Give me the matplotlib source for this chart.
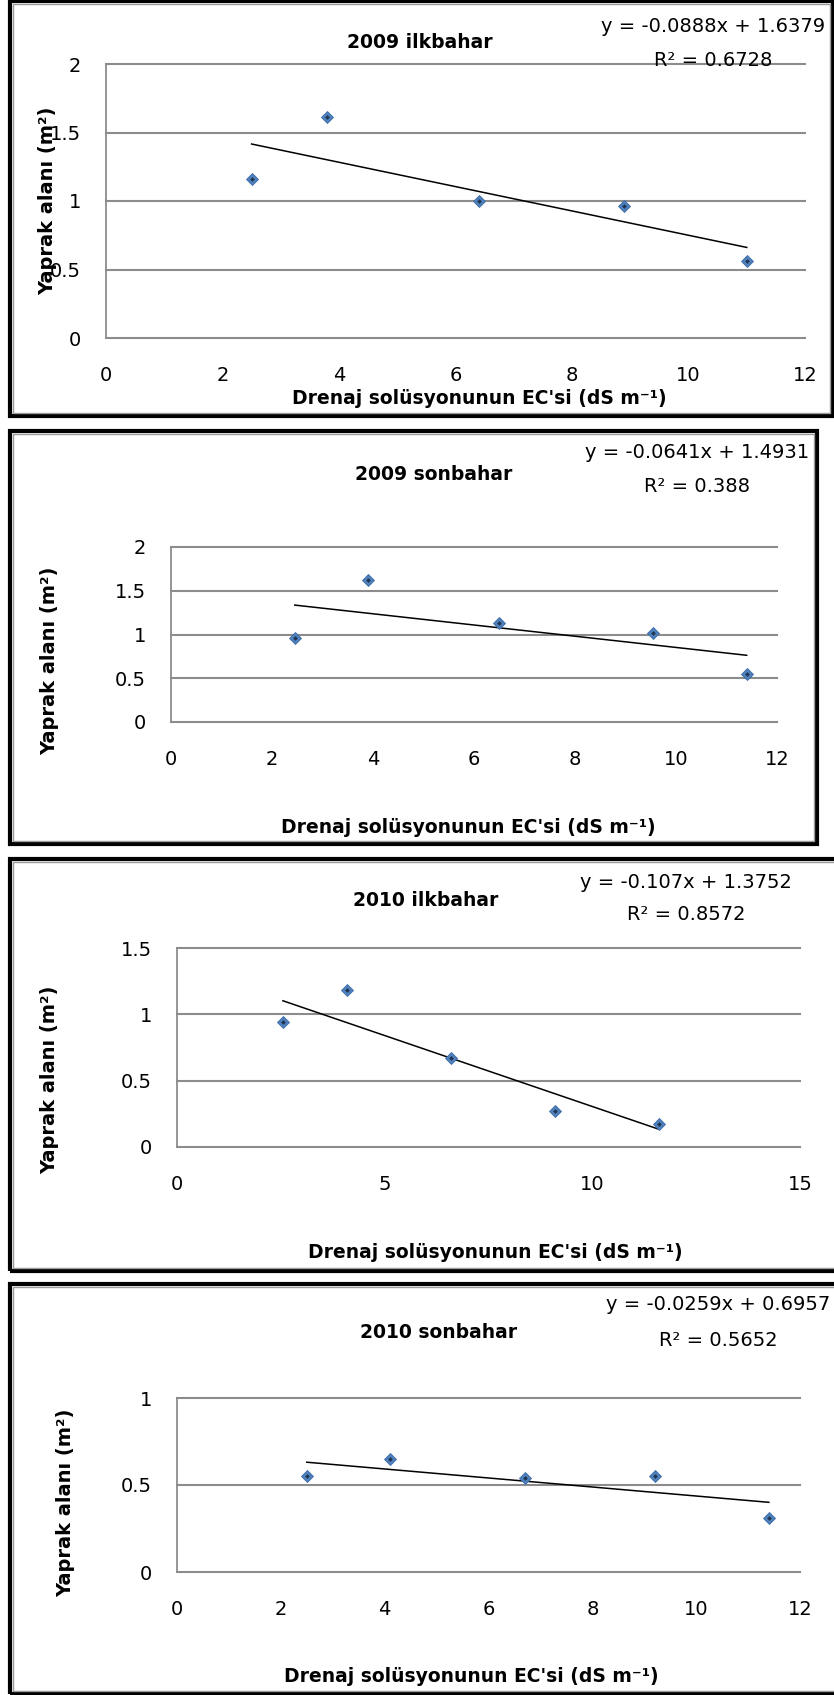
import matplotlib
matplotlib.use("Agg")
import matplotlib.pyplot as plt
from matplotlib.patches import Rectangle
import numpy as np

W, H = 834, 1695
DPI = 100

# ---------------- data ----------------
titles = ["2009 ilkbahar", "2009 sonbahar", "2010 ilkbahar", "2010 sonbahar"]
x_2009_ilk = [2.5, 3.8, 6.4, 8.9, 11.0]
y_2009_ilk = [1.16, 1.61, 1.00, 0.96, 0.56]
x_2009_son = [2.45, 3.9, 6.5, 9.55, 11.4]
y_2009_son = [0.96, 1.62, 1.13, 1.02, 0.55]
x_2010_ilk = [2.55, 4.1, 6.6, 9.1, 11.6]
y_2010_ilk = [0.94, 1.18, 0.67, 0.27, 0.17]
x_2010_son = [2.5, 4.1, 6.7, 9.2, 11.4]
y_2010_son = [0.55, 0.65, 0.54, 0.55, 0.31]
slopes = [-0.0888, -0.0641, -0.107, -0.0259]
intercepts = [1.6379, 1.4931, 1.3752, 0.6957]
eq_texts = ["y = -0.0888x + 1.6379", "y = -0.0641x + 1.4931",
            "y = -0.107x + 1.3752", "y = -0.0259x + 0.6957"]
r2_texts = ["R² = 0.6728", "R² = 0.388", "R² = 0.8572", "R² = 0.5652"]
xticks_list = [[0, 2, 4, 6, 8, 10, 12], [0, 2, 4, 6, 8, 10, 12],
               [0, 5, 10, 15], [0, 2, 4, 6, 8, 10, 12]]
yticks_list = [[0, 0.5, 1, 1.5, 2], [0, 0.5, 1, 1.5, 2],
               [0, 0.5, 1, 1.5], [0, 0.5, 1]]
ytick_labels_list = [["0", "0.5", "1", "1.5", "2"], ["0", "0.5", "1", "1.5", "2"],
                     ["0", "0.5", "1", "1.5"], ["0", "0.5", "1"]]
xlabel = "Drenaj solüsyonunun EC'si (dS m⁻¹)"
ylabel = "Yaprak alanı (m²)"
xs = [x_2009_ilk, x_2009_son, x_2010_ilk, x_2010_son]
ys = [y_2009_ilk, y_2009_son, y_2010_ilk, y_2010_son]

# ---------------- layout (pixels) ----------------
# panel frame: left, top, right, bottom
frames = [(10, 1, 833, 416), (10, 431, 817, 844), (10, 859, 846, 1271), (10, 1284, 846, 1694)]
# axes: left, top, right, bottom
axes_px = [(106, 64, 805, 338), (171, 547, 777, 722), (177, 948, 800, 1147), (177, 1398, 800, 1572)]
title_pos = [(420, 43), (434, 475), (426, 900), (439, 1332)]
eq_pos = [(713, 27), (697, 453), (686, 883), (718, 1305)]
r2_pos = [(713, 60), (697, 487), (686, 915), (718, 1340)]
xlabel_pos = [(479, 398), (468, 827), (495, 1252), (471, 1676)]
ylabel_pos = [(48, 201), (50, 661), (50, 1080), (66, 1503)]

FONT = ["DejaVu Sans"]
GRID = "#8c8c8c"

fig = plt.figure(figsize=(W / DPI, H / DPI), dpi=DPI)
fig.patch.set_facecolor("white")


def fx(px):
    return px / W


def fy(py):
    return 1 - py / H


for i in range(4):
    l, t, r, b = frames[i]
    # outer black frame + inner gray line
    fig.patches.append(Rectangle((fx(l), fy(b)), fx(r) - fx(l), fy(t) - fy(b),
                                 transform=fig.transFigure, fill=False,
                                 edgecolor="black", linewidth=3.0, zorder=0))
    fig.patches.append(Rectangle((fx(l + 3), fy(b - 3)), fx(r - 3) - fx(l + 3), fy(t + 3) - fy(b - 3),
                                 transform=fig.transFigure, fill=False,
                                 edgecolor="#9a9a9a", linewidth=1.0, zorder=0))

    al, at, ar, ab = axes_px[i]
    ax = fig.add_axes([fx(al), fy(ab), fx(ar) - fx(al), fy(at) - fy(ab)])
    ax.set_facecolor("none")
    xt = xticks_list[i]
    yt = yticks_list[i]
    ax.set_xlim(xt[0], xt[-1])
    ax.set_ylim(yt[0], yt[-1])
    for s in ["top", "right", "bottom"]:
        ax.spines[s].set_visible(False)
    ax.spines["left"].set_color(GRID)
    ax.spines["left"].set_linewidth(1.3)
    for yv in yt:
        ax.axhline(yv, color=GRID, linewidth=1.5, zorder=1, clip_on=False)
    ax.set_xticks(xt)
    ax.set_xticklabels([str(v) for v in xt], fontfamily=FONT, fontsize=14)
    ax.set_yticks(yt)
    ax.set_yticklabels(ytick_labels_list[i], fontfamily=FONT, fontsize=14)
    ax.tick_params(axis="x", length=0, pad=20, colors="black")
    ax.tick_params(axis="y", length=0, pad=18, colors="black")

    x = np.array(xs[i])
    y = np.array(ys[i])
    xl = np.array([x.min(), x.max()])
    ax.plot(xl, slopes[i] * xl + intercepts[i], color="black", linewidth=1.1, zorder=3)
    ax.plot(x, y, linestyle="none", marker="D", markersize=6,
            markerfacecolor="#4F81BD", markeredgecolor="#3a6aa5", markeredgewidth=0.6, zorder=4)
    ax.plot(x, y, linestyle="none", marker="D", markersize=2.4,
            markerfacecolor="#1f3550", markeredgecolor="none", zorder=5)

    fig.text(fx(title_pos[i][0]), fy(title_pos[i][1]), titles[i], ha="center", va="center",
             fontfamily=FONT, fontsize=13.5, fontweight="bold")
    fig.text(fx(eq_pos[i][0]), fy(eq_pos[i][1]), eq_texts[i], ha="center", va="center",
             fontfamily=FONT, fontsize=14)
    fig.text(fx(r2_pos[i][0]), fy(r2_pos[i][1]), r2_texts[i], ha="center", va="center",
             fontfamily=FONT, fontsize=14)
    fig.text(fx(xlabel_pos[i][0]), fy(xlabel_pos[i][1]), xlabel, ha="center", va="center",
             fontfamily=FONT, fontsize=13.5, fontweight="bold")
    fig.text(fx(ylabel_pos[i][0]), fy(ylabel_pos[i][1]), ylabel, ha="center", va="center",
             rotation=90, fontfamily=FONT, fontsize=14, fontweight="bold")

fig.savefig("out.png", dpi=DPI)
